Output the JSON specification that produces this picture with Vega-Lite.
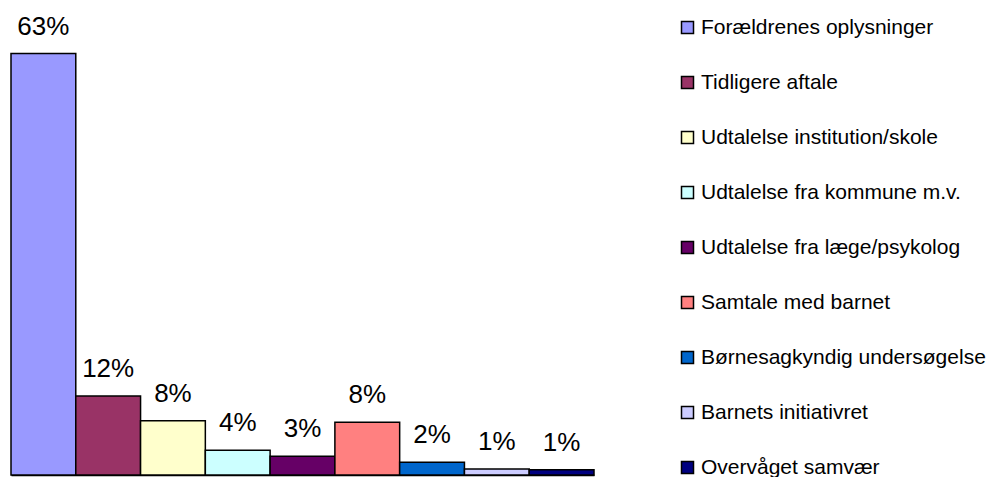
{
  "$schema": "https://vega.github.io/schema/vega-lite/v6.json",
  "width": 583,
  "height": 475,
  "autosize": "none",
  "padding": {"left": 11, "top": 0, "right": 402, "bottom": 2},
  "background": "white",
  "config": {"view": {"stroke": null}, "font": "Liberation Sans"},
  "data": {"values": [
    {"kategori": "Forældrenes oplysninger", "andel": 63, "label": "63%"},
    {"kategori": "Tidligere aftale", "andel": 11.8, "label": "12%"},
    {"kategori": "Udtalelse institution/skole", "andel": 8.1, "label": "8%"},
    {"kategori": "Udtalelse fra kommune m.v.", "andel": 3.7, "label": "4%"},
    {"kategori": "Udtalelse fra læge/psykolog", "andel": 2.8, "label": "3%"},
    {"kategori": "Samtale med barnet", "andel": 7.9, "label": "8%"},
    {"kategori": "Børnesagkyndig undersøgelse", "andel": 1.9, "label": "2%"},
    {"kategori": "Barnets initiativret", "andel": 0.9, "label": "1%"},
    {"kategori": "Overvåget samvær", "andel": 0.8, "label": "1%"}
  ]},
  "encoding": {
    "x": {"field": "kategori", "type": "nominal", "sort": null,
      "scale": {"paddingInner": 0, "paddingOuter": 0},
      "axis": {"title": null, "labels": false, "ticks": false, "domainColor": "black", "domainWidth": 1.5}},
    "y": {"field": "andel", "type": "quantitative",
      "scale": {"domain": [0, 71], "nice": false, "zero": true}, "axis": null}
  },
  "layer": [
    {
      "mark": {"type": "bar", "stroke": "black", "strokeWidth": 1.5},
      "encoding": {
        "color": {"field": "kategori", "type": "nominal", "sort": null,
          "scale": {"domain": ["Forældrenes oplysninger", "Tidligere aftale", "Udtalelse institution/skole", "Udtalelse fra kommune m.v.", "Udtalelse fra læge/psykolog", "Samtale med barnet", "Børnesagkyndig undersøgelse", "Barnets initiativret", "Overvåget samvær"],
            "range": ["#9999FF", "#993366", "#FFFFCC", "#CCFFFF", "#660066", "#FF8080", "#0066CC", "#CCCCFF", "#000080"]},
          "legend": {"title": null, "orient": "none", "legendX": 666, "legendY": 17,
            "symbolType": "square", "symbolSize": 144, "symbolStrokeColor": "black", "symbolStrokeWidth": 1.5,
            "labelFont": "Liberation Sans", "labelFontSize": 21, "labelColor": "black", "labelLimit": 400,
            "rowPadding": 33, "labelOffset": 3}}
      }
    },
    {
      "mark": {"type": "text", "baseline": "alphabetic", "dy": -19, "fontSize": 26, "font": "Liberation Sans", "color": "black"},
      "encoding": {"text": {"field": "label"}}
    }
  ]
}
